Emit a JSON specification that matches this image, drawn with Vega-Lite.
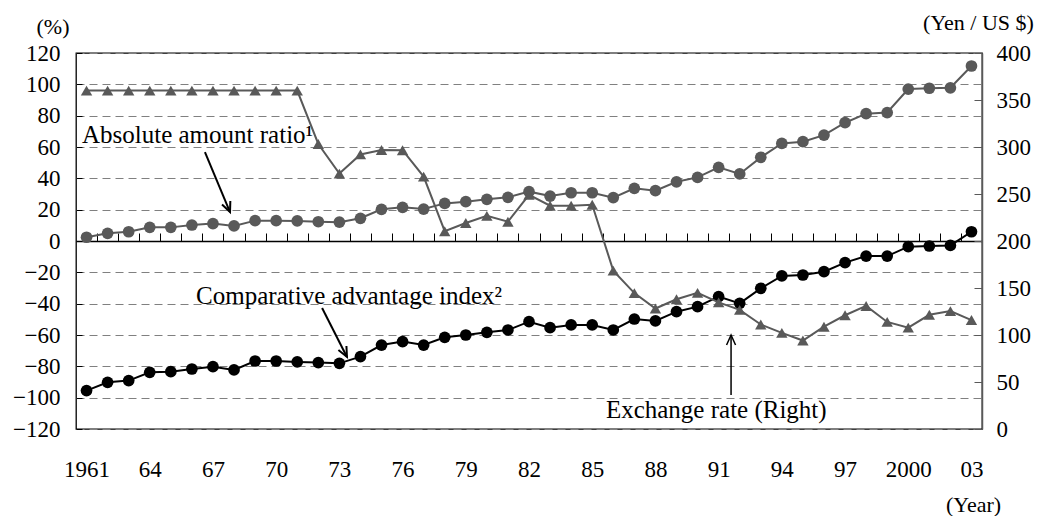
{
  "$schema": "https://vega.github.io/schema/vega-lite/v6.json",
  "width": 906,
  "height": 376,
  "autosize": {"type": "none"},
  "padding": {"left": 76, "top": 53, "right": 60, "bottom": 87},
  "background": "white",
  "config": {
    "font": "Liberation Serif",
    "view": {"stroke": "#000000", "strokeWidth": 1.3},
    "axis": {"labelFont": "Liberation Serif", "titleFont": "Liberation Serif", "labelFontSize": 23, "titleFontSize": 22, "labelColor": "#000000", "titleColor": "#000000", "titleFontWeight": "normal"},
    "style": {"guide-label": {"font": "Liberation Serif"}, "guide-title": {"font": "Liberation Serif"}},
    "text": {"font": "Liberation Serif"}
  },
  "data": {"values": [
    {"year": 1961, "aar": 2.4, "cai": -95.5, "fx": 360},
    {"year": 1962, "aar": 4.9, "cai": -90.2, "fx": 360},
    {"year": 1963, "aar": 5.9, "cai": -89.1, "fx": 360},
    {"year": 1964, "aar": 8.7, "cai": -83.8, "fx": 360},
    {"year": 1965, "aar": 8.7, "cai": -83.4, "fx": 360},
    {"year": 1966, "aar": 10.2, "cai": -81.7, "fx": 360},
    {"year": 1967, "aar": 11.1, "cai": -80.2, "fx": 360},
    {"year": 1968, "aar": 9.6, "cai": -82.3, "fx": 360},
    {"year": 1969, "aar": 13.0, "cai": -76.6, "fx": 360},
    {"year": 1970, "aar": 13.0, "cai": -76.6, "fx": 360},
    {"year": 1971, "aar": 12.8, "cai": -77.2, "fx": 360},
    {"year": 1972, "aar": 12.3, "cai": -77.6, "fx": 303.2},
    {"year": 1973, "aar": 12.0, "cai": -78.1, "fx": 271.7},
    {"year": 1974, "aar": 14.5, "cai": -73.8, "fx": 292.1},
    {"year": 1975, "aar": 20.2, "cai": -66.4, "fx": 296.8},
    {"year": 1976, "aar": 21.5, "cai": -64.2, "fx": 296.6},
    {"year": 1977, "aar": 20.4, "cai": -66.4, "fx": 268.5},
    {"year": 1978, "aar": 24.0, "cai": -61.5, "fx": 210.4},
    {"year": 1979, "aar": 25.1, "cai": -60.0, "fx": 219.1},
    {"year": 1980, "aar": 26.6, "cai": -58.3, "fx": 226.7},
    {"year": 1981, "aar": 27.9, "cai": -56.8, "fx": 220.5},
    {"year": 1982, "aar": 31.5, "cai": -51.5, "fx": 249.1},
    {"year": 1983, "aar": 28.7, "cai": -55.3, "fx": 237.5},
    {"year": 1984, "aar": 30.8, "cai": -53.6, "fx": 237.5},
    {"year": 1985, "aar": 30.8, "cai": -53.6, "fx": 238.5},
    {"year": 1986, "aar": 27.7, "cai": -56.8, "fx": 168.5},
    {"year": 1987, "aar": 33.6, "cai": -49.8, "fx": 144.6},
    {"year": 1988, "aar": 32.1, "cai": -51.0, "fx": 128.2},
    {"year": 1989, "aar": 37.8, "cai": -45.1, "fx": 138.0},
    {"year": 1990, "aar": 40.6, "cai": -41.9, "fx": 144.8},
    {"year": 1991, "aar": 47.0, "cai": -35.5, "fx": 134.7},
    {"year": 1992, "aar": 42.8, "cai": -39.8, "fx": 126.7},
    {"year": 1993, "aar": 53.4, "cai": -30.2, "fx": 111.2},
    {"year": 1994, "aar": 62.3, "cai": -22.3, "fx": 102.2},
    {"year": 1995, "aar": 63.4, "cai": -21.7, "fx": 94.1},
    {"year": 1996, "aar": 67.6, "cai": -19.6, "fx": 108.8},
    {"year": 1997, "aar": 75.5, "cai": -13.8, "fx": 121.0},
    {"year": 1998, "aar": 81.3, "cai": -9.6, "fx": 130.9},
    {"year": 1999, "aar": 82.0, "cai": -9.6, "fx": 113.9},
    {"year": 2000, "aar": 97.0, "cai": -3.6, "fx": 107.8},
    {"year": 2001, "aar": 97.5, "cai": -3.2, "fx": 121.5},
    {"year": 2002, "aar": 97.8, "cai": -2.8, "fx": 125.4},
    {"year": 2003, "aar": 111.7, "cai": 5.9, "fx": 115.9}
  ]},
  "layer": [
    {
      "transform": [{"fold": ["aar", "cai"], "as": ["series", "value"]}],
      "encoding": {
        "x": {"field": "year", "type": "quantitative",
          "scale": {"domain": [1960.5, 2003.5], "nice": false, "zero": false},
          "axis": {"orient": "bottom", "values": [1961, 1964, 1967, 1970, 1973, 1976, 1979, 1982, 1985, 1988, 1991, 1994, 1997, 2000, 2003],
            "labelExpr": "datum.value == 1961 || datum.value == 2000 ? '' + datum.value : substring('' + datum.value, 2)",
            "labelFont": "Liberation Serif", "labelFontSize": 23, "titleFont": "Liberation Serif", "titleFontSize": 22,
            "ticks": false, "tickSize": 0, "domain": false, "grid": false, "labelPadding": 29, "labelFlush": false, "labelOverlap": false, "labelBound": false,
            "title": "(Year)", "titleX": 897, "titleY": 82, "titleAlign": "center", "titleBaseline": "alphabetic"}},
        "y": {"field": "value", "type": "quantitative",
          "scale": {"domain": [-120, 120], "nice": false, "zero": false},
          "axis": {"orient": "left", "values": [-120, -100, -80, -60, -40, -20, 0, 20, 40, 60, 80, 100, 120],
            "labelFont": "Liberation Serif", "labelFontSize": 23, "titleFont": "Liberation Serif", "titleFontSize": 22,
            "grid": true, "gridDash": [8, 5], "gridColor": "#808080", "gridWidth": 1,
            "domain": false, "ticks": true, "tickSize": -6, "tickColor": "#000000", "labelPadding": 22,
            "title": "(%)", "titleAngle": 0, "titleX": -23.5, "titleY": -20, "titleAlign": "center", "titleBaseline": "alphabetic"}},
        "color": {"field": "series", "type": "nominal", "scale": {"domain": ["aar", "cai"], "range": ["#595959", "#000000"]}, "legend": null}
      },
      "layer": [
        {"mark": {"type": "line", "strokeWidth": 2}},
        {"mark": {"type": "point", "shape": "circle", "filled": true, "opacity": 1, "size": 137}}
      ]
    },
    {
      "data": {"values": [{}]},
      "mark": {"type": "text", "text": "Absolute amount ratio¹", "font": "Liberation Serif", "fontSize": 25, "align": "left", "baseline": "alphabetic", "color": "#000000"},
      "encoding": {"x": {"datum": 1960.785, "type": "quantitative", "axis": null}, "y": {"datum": 62.3, "type": "quantitative", "scale": {"domain": [-120, 120], "nice": false}, "axis": null}}
    },
    {
      "data": {"values": [{}]},
      "mark": {"type": "text", "text": "Comparative advantage index²", "font": "Liberation Serif", "fontSize": 25, "align": "left", "baseline": "alphabetic", "color": "#000000"},
      "encoding": {"x": {"datum": 1966.2, "type": "quantitative", "axis": null}, "y": {"datum": -40.2, "type": "quantitative", "scale": {"domain": [-120, 120], "nice": false}, "axis": null}}
    },
    {
      "data": {"values": [{}]},
      "mark": {"type": "text", "text": "Exchange rate (Right)", "font": "Liberation Serif", "fontSize": 25, "align": "left", "baseline": "alphabetic", "color": "#000000"},
      "encoding": {"x": {"datum": 1985.65, "type": "quantitative", "axis": null}, "y": {"datum": -113, "type": "quantitative", "scale": {"domain": [-120, 120], "nice": false}, "axis": null}}
    },
    {
      "data": {"values": [{}]},
      "mark": {"type": "rule", "color": "#000000", "strokeWidth": 2},
      "encoding": {"x": {"datum": 1966.62, "type": "quantitative", "axis": null}, "y": {"datum": 56.8, "type": "quantitative", "scale": {"domain": [-120, 120], "nice": false}, "axis": null},
        "x2": {"datum": 1967.81}, "y2": {"datum": 18.5}}
    },
    {
      "data": {"values": [{}]},
      "mark": {"type": "point", "shape": "M-0.45,-1L0,0L0.45,-1", "filled": false, "color": "#000000", "strokeWidth": 2, "size": 400, "opacity": 1, "angle": -22.6},
      "encoding": {"x": {"datum": 1967.81, "type": "quantitative", "axis": null}, "y": {"datum": 18.5, "type": "quantitative", "scale": {"domain": [-120, 120], "nice": false}, "axis": null}}
    },
    {
      "data": {"values": [{}]},
      "mark": {"type": "rule", "color": "#000000", "strokeWidth": 2},
      "encoding": {"x": {"datum": 1972.18, "type": "quantitative", "axis": null}, "y": {"datum": -42.8, "type": "quantitative", "scale": {"domain": [-120, 120], "nice": false}, "axis": null},
        "x2": {"datum": 1973.36}, "y2": {"datum": -74.0}}
    },
    {
      "data": {"values": [{}]},
      "mark": {"type": "point", "shape": "M-0.45,-1L0,0L0.45,-1", "filled": false, "color": "#000000", "strokeWidth": 2, "size": 400, "opacity": 1, "angle": -27},
      "encoding": {"x": {"datum": 1973.36, "type": "quantitative", "axis": null}, "y": {"datum": -74.0, "type": "quantitative", "scale": {"domain": [-120, 120], "nice": false}, "axis": null}}
    },
    {
      "data": {"values": [{}]},
      "mark": {"type": "rule", "color": "#000000", "strokeWidth": 1.5},
      "encoding": {"x": {"datum": 1991.59, "type": "quantitative", "axis": null}, "y": {"datum": -98.3, "type": "quantitative", "scale": {"domain": [-120, 120], "nice": false}, "axis": null},
        "y2": {"datum": -60}}
    },
    {
      "data": {"values": [{}]},
      "mark": {"type": "point", "shape": "M-0.45,-1L0,0L0.45,-1", "filled": false, "color": "#000000", "strokeWidth": 1.5, "size": 400, "opacity": 1, "angle": 180},
      "encoding": {"x": {"datum": 1991.59, "type": "quantitative", "axis": null}, "y": {"datum": -60, "type": "quantitative", "scale": {"domain": [-120, 120], "nice": false}, "axis": null}}
    },
    {
      "encoding": {
        "x": {"field": "year", "type": "quantitative",
          "scale": {"domain": [1960.5, 2003.5], "nice": false, "zero": false},
          "axis": {"orient": "top", "offset": -188, "values": [1961.5, 1962.5, 1963.5, 1964.5, 1965.5, 1966.5, 1967.5, 1968.5, 1969.5, 1970.5, 1971.5, 1972.5, 1973.5, 1974.5, 1975.5, 1976.5, 1977.5, 1978.5, 1979.5, 1980.5, 1981.5, 1982.5, 1983.5, 1984.5, 1985.5, 1986.5, 1987.5, 1988.5, 1989.5, 1990.5, 1991.5, 1992.5, 1993.5, 1994.5, 1995.5, 1996.5, 1997.5, 1998.5, 1999.5, 2000.5, 2001.5, 2002.5],
            "labels": false, "ticks": true, "tickSize": 8, "tickColor": "#000000", "tickWidth": 1, "domain": true, "domainColor": "#000000", "domainWidth": 1.5, "grid": false, "title": null}},
        "y": {"field": "fx", "type": "quantitative",
          "scale": {"domain": [0, 400], "nice": false, "zero": false},
          "axis": {"orient": "right", "values": [0, 50, 100, 150, 200, 250, 300, 350, 400], "grid": false,
            "labelFont": "Liberation Serif", "labelFontSize": 23, "titleFont": "Liberation Serif", "titleFontSize": 22,
            "ticks": true, "tickSize": -8, "tickColor": "#595959", "tickWidth": 1, "domain": true, "domainColor": "#595959", "domainWidth": 1.5, "labelPadding": 22,
            "title": "(Yen / US $)", "titleAngle": 0, "titleX": -4, "titleY": -24, "titleAlign": "center", "titleBaseline": "alphabetic"}}
      },
      "layer": [
        {"mark": {"type": "line", "color": "#595959", "strokeWidth": 2}},
        {"mark": {"type": "point", "shape": "triangle-up", "filled": true, "color": "#595959", "size": 130, "opacity": 1}}
      ]
    }
  ],
  "resolve": {"scale": {"y": "independent"}, "axis": {"x": "independent", "y": "independent"}}
}
